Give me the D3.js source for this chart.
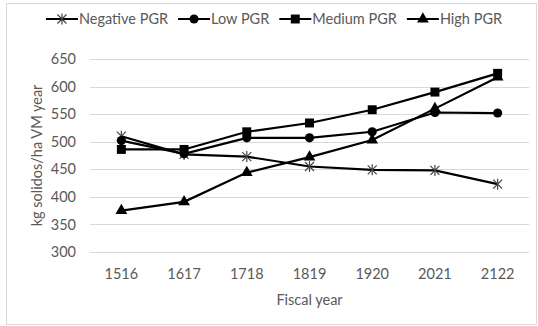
<!DOCTYPE html>
<html>
<head>
<meta charset="utf-8">
<script src="https://cdn.jsdelivr.net/npm/d3@7"></script>
<style>
  body { margin: 0; background: #fff; }
  text { font-family: Lato, "Open Sans", sans-serif; fill: #595959; }
</style>
</head>
<body>
<div id="container"></div>
<script>
/* CONSTANTS AND GLOBALS */
const width = 538,
  height = 326,
  margin = { top: 59, bottom: 74, left: 90, right: 9 },
  fontSize = 14.5;

/* DATA */
const years = ["1516", "1617", "1718", "1819", "1920", "2021", "2122"]
const seriesNames = ["Negative PGR", "Low PGR", "Medium PGR", "High PGR"]
const negativePGR = [510, 477, 473, 455, 449, 448, 423]
const lowPGR = [502, 478, 507, 507, 518, 553, 552]
const mediumPGR = [486, 486, 518, 534, 558, 590, 624]
const highPGR = [375, 391, 444, 472, 503, 560, 617]
const yTicks = [300, 350, 400, 450, 500, 550, 600, 650]

const series = [
  { name: seriesNames[0], values: negativePGR, symbol: "star" },
  { name: seriesNames[1], values: lowPGR, symbol: "circle" },
  { name: seriesNames[2], values: mediumPGR, symbol: "square" },
  { name: seriesNames[3], values: highPGR, symbol: "triangle" }
]

/* SCALES */
const xScale = d3.scaleBand()
  .domain(years)
  .range([margin.left, width - margin.right])

const yScale = d3.scaleLinear()
  .domain([300, 650])
  .range([height - margin.bottom, margin.top])

const x = d => xScale(d) + xScale.bandwidth() / 2

// svg
const svg = d3.select("#container")
  .append("svg")
  .attr("width", width)
  .attr("height", height)

// outer frame
svg.append("rect")
  .attr("x", 6.5).attr("y", 3.5)
  .attr("width", width - 8).attr("height", height - 5)
  .attr("fill", "none")
  .attr("stroke", "#d9d9d9")

// gridlines
svg.selectAll(".grid")
  .data(yTicks)
  .join("line")
  .attr("class", "grid")
  .attr("x1", margin.left)
  .attr("x2", width - margin.right)
  .attr("y1", d => Math.round(yScale(d)) + 0.5)
  .attr("y2", d => Math.round(yScale(d)) + 0.5)
  .attr("stroke", "#d9d9d9")
  .attr("stroke-width", 1)

// y axis labels
svg.selectAll(".ylab")
  .data(yTicks)
  .join("text")
  .attr("class", "ylab")
  .attr("x", 76)
  .attr("y", d => yScale(d))
  .attr("dy", "0.35em")
  .attr("text-anchor", "end")
  .attr("font-size", fontSize)
  .text(d => d)

// x axis labels
svg.selectAll(".xlab")
  .data(years)
  .join("text")
  .attr("class", "xlab")
  .attr("x", d => x(d))
  .attr("y", 274)
  .attr("dy", "0.35em")
  .attr("text-anchor", "middle")
  .attr("font-size", fontSize)
  .text(d => d)

// axis titles
svg.append("text")
  .attr("x", (margin.left + width - margin.right) / 2)
  .attr("y", 300)
  .attr("dy", "0.35em")
  .attr("text-anchor", "middle")
  .attr("font-size", fontSize)
  .text("Fiscal year")

svg.append("text")
  .attr("transform", `translate(37,${(margin.top + yScale(300)) / 2}) rotate(-90)`)
  .attr("dy", "0.35em")
  .attr("text-anchor", "middle")
  .attr("font-size", fontSize)
  .text("kg solidos/ha VM year")

// symbols
const symbolGen = {
  circle: d3.symbol(d3.symbolCircle, 66),
  square: d3.symbol(d3.symbolSquare, 80),
  triangle: d3.symbol(d3.symbolTriangle, 60)
}

function drawSymbol(g, s) {
  if (s === "star") {
    // asterisk marker: x plus vertical stroke
    g.append("path")
      .attr("d", "M-4.5,-4.5L4.5,4.5M-4.5,4.5L4.5,-4.5M0,-5.5L0,5.5")
      .attr("stroke", "#444")
      .attr("stroke-width", 1.2)
      .attr("fill", "none")
  } else {
    g.append("path")
      .attr("d", symbolGen[s]())
      .attr("fill", "#000")
  }
}

// lines
const line = d3.line()
  .x((d, i) => x(years[i]))
  .y(d => yScale(d))

series.forEach(s => {
  svg.append("path")
    .datum(s.values)
    .attr("d", line)
    .attr("fill", "none")
    .attr("stroke", "#000")
    .attr("stroke-width", 2.2)

  s.values.forEach((v, i) => {
    const g = svg.append("g")
      .attr("transform", `translate(${x(years[i])},${yScale(v)})`)
    drawSymbol(g, s.symbol)
  })
})

// legend
const legend = svg.append("g")
let lx = 0
series.forEach((s, i) => {
  const g = legend.append("g").attr("transform", `translate(${lx},0)`)
  g.append("line")
    .attr("x1", 0).attr("x2", 32)
    .attr("stroke", "#000").attr("stroke-width", 2.2)
  const m = g.append("g").attr("transform", "translate(16,0)")
  drawSymbol(m, s.symbol)
  const t = g.append("text")
    .attr("x", 33)
    .attr("dy", "0.35em")
    .attr("font-size", fontSize)
    .text(s.name)
  lx += 33 + t.node().getComputedTextLength() + 10
})
lx -= 10
legend.attr("transform", `translate(${(width - lx) / 2 + 5},19)`)
</script>
</body>
</html>
